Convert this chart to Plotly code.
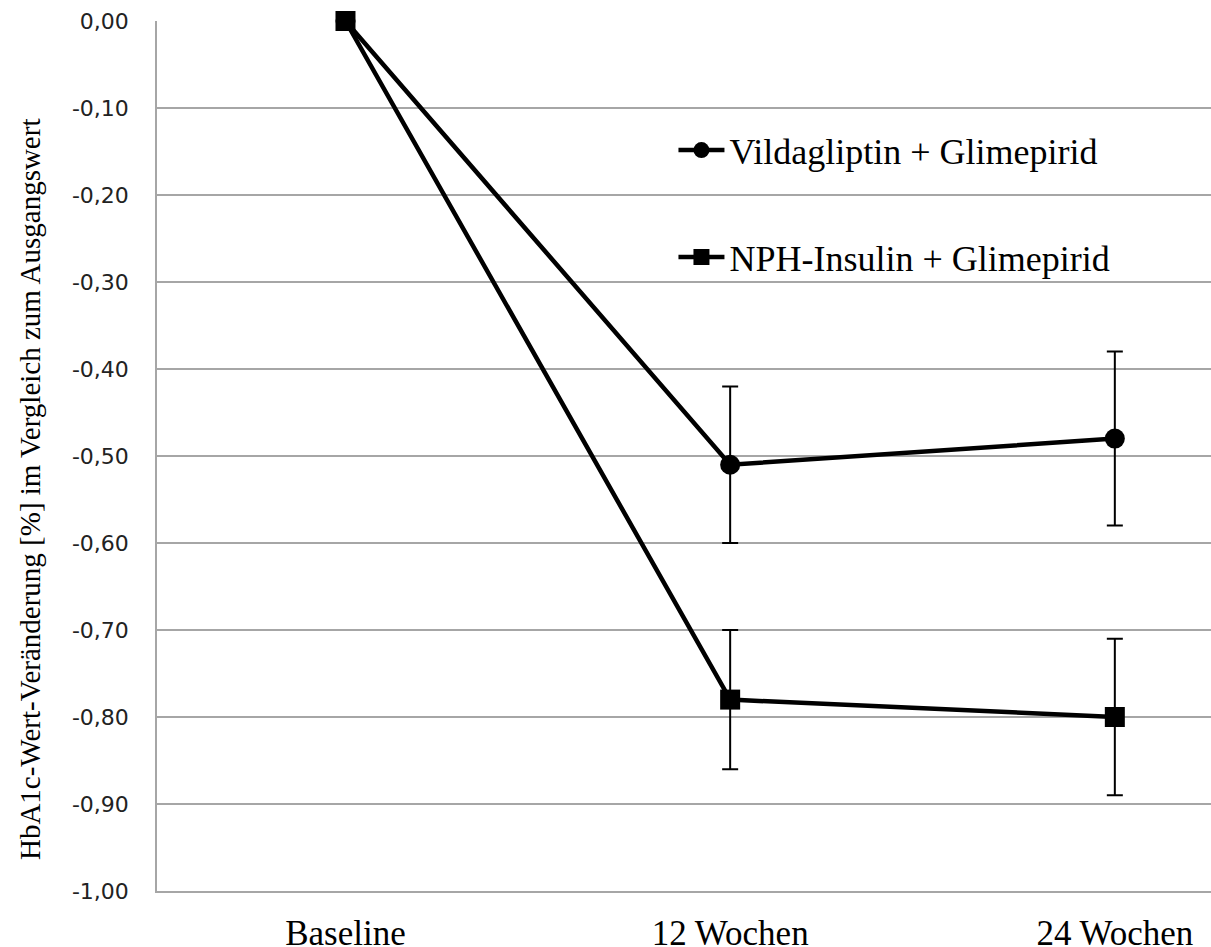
import plotly.graph_objects as go

categories = ["Baseline", "12 Wochen", "24 Wochen"]
vilda_values = [0.00, -0.51, -0.48]
vilda_err = [0.0, 0.09, 0.10]
nph_values = [0.00, -0.78, -0.80]
nph_err = [0.0, 0.08, 0.09]
y_ticks = [0.0, -0.1, -0.2, -0.3, -0.4, -0.5, -0.6, -0.7, -0.8, -0.9, -1.0]
y_tick_labels = ["0,00", "-0,10", "-0,20", "-0,30", "-0,40", "-0,50",
                 "-0,60", "-0,70", "-0,80", "-0,90", "-1,00"]
y_title = "HbA1c-Wert-Veränderung [%] im Vergleich zum Ausgangswert"

serif = "Liberation Serif, Times New Roman, serif"
grid = "#a6a6a6"

fig = go.Figure()
fig.add_trace(go.Scatter(
    x=[0, 1, 2], y=vilda_values, name="Vildagliptin + Glimepirid",
    mode="lines+markers", legendgroup="a",
    line=dict(color="black", width=4.5),
    marker=dict(symbol="circle", size=20, color="black"),
    error_y=dict(type="data", array=vilda_err, visible=True, color="black", thickness=2, width=8),
    cliponaxis=False,
))
fig.add_trace(go.Scatter(
    x=[0, 1, 2], y=nph_values, name="NPH-Insulin + Glimepirid",
    mode="lines+markers", legendgroup="b",
    line=dict(color="black", width=4.5),
    marker=dict(symbol="square", size=20, color="black"),
    error_y=dict(type="data", array=nph_err, visible=True, color="black", thickness=2, width=8),
    cliponaxis=False,
))

fig.add_annotation(
    text=y_title, textangle=-90,
    xref="paper", yref="paper", x=-0.1205, y=0.462,
    xanchor="center", yanchor="middle", showarrow=False,
    font=dict(family=serif, size=29, color="black"),
)

fig.update_layout(
    width=1211, height=947,
    margin=dict(l=157, r=0, t=21, b=56),
    paper_bgcolor="white", plot_bgcolor="white",
    showlegend=True,
    legend=dict(
        x=0.49, y=0.886, xanchor="left", yanchor="top",
        bgcolor="rgba(0,0,0,0)", tracegroupgap=57,
        font=dict(family=serif, size=36, color="black"),
        itemwidth=46,
    ),
    xaxis=dict(
        range=[-0.49, 2.25],
        tickmode="array", tickvals=[0, 1, 2], ticktext=categories,
        showgrid=False, zeroline=False,
        showline=True, linecolor=grid, linewidth=1.5,
        ticks="", ticklabelstandoff=10,
        tickfont=dict(family=serif, size=35, color="black"),
        automargin=False,
    ),
    yaxis=dict(
        range=[-1.0, 0.0],
        tickmode="array", tickvals=y_ticks, ticktext=y_tick_labels,
        showgrid=True, gridcolor=grid, gridwidth=1.5,
        zeroline=False,
        showline=True, linecolor=grid, linewidth=1.5,
        ticks="", ticklabelstandoff=22,
        tickfont=dict(family="DejaVu Sans", size=22, color="#222"),
        automargin=False,
    ),
)
fig.write_html("out.html", config={"displayModeBar": False},
               post_script="document.body.style.margin='0px';")
